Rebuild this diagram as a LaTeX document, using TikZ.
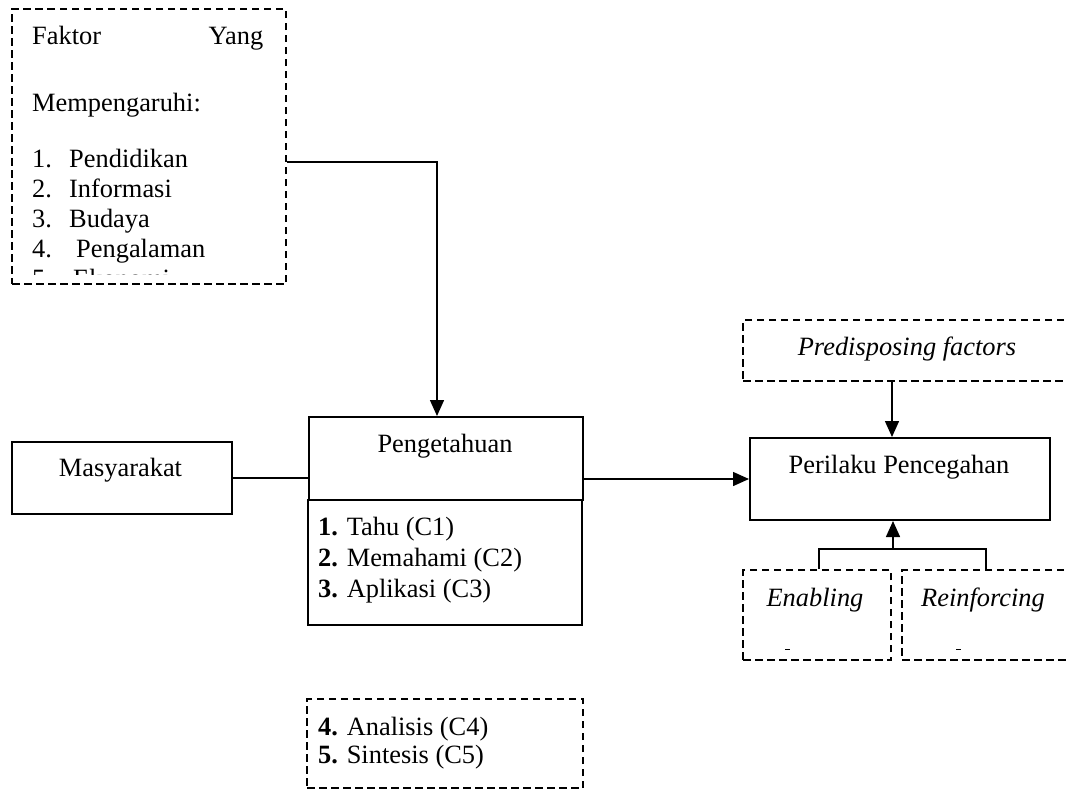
\documentclass[tikz,border=0pt]{standalone}
\usepackage{fontspec}
\setmainfont{Liberation Serif}
\usetikzlibrary{arrows.meta}
\begin{document}
\begin{tikzpicture}[x=1pt,y=-1pt,
  txt/.style={inner sep=0pt, anchor=base west, font=\fontsize{26.4}{30}\selectfont},
  ctxt/.style={inner sep=0pt, anchor=base, font=\fontsize{26.4}{30}\selectfont},
  solidbox/.style={draw, line width=2pt, inner sep=0pt, anchor=north west},
  dashbox/.style={draw, line width=2pt, dash pattern=on 7.5pt off 4.5pt, inner sep=0pt, anchor=north west},
  conn/.style={line width=1.5pt},
  arr/.style={conn, -{Triangle[length=16pt,width=14pt]}}
]
\useasboundingbox (0,0) rectangle (1066,796);
\clip (0,0) rectangle (1066,796);

% boxes
\node[dashbox, minimum width=274pt, minimum height=275pt] (faktor) at (11,8) {};
\node[solidbox, minimum width=274pt, minimum height=83pt] (peng) at (308,416) {};
\node[solidbox, minimum width=274pt, minimum height=125pt] (pengl) at (307,499) {};
\node[solidbox, minimum width=220pt, minimum height=72pt] (masy) at (11,441) {};
\node[solidbox, minimum width=300pt, minimum height=82pt] (peril) at (749,437) {};
\node[dashbox, minimum width=340pt, minimum height=61pt] (pred) at (742,319) {};
\node[dashbox, minimum width=148pt, minimum height=90pt] (enab) at (742,569) {};
\node[dashbox, minimum width=180pt, minimum height=90pt] (reinf) at (901,569) {};
\node[dashbox, minimum width=276pt, minimum height=89pt] (anal) at (306,698) {};

% Faktor text
\begin{scope}
\clip (11,8) rectangle (285,274);
\node[txt] (f0) at (32,44) {\makebox[231pt][s]{Faktor\hfill Yang}};
\node[txt] (f1) at (32,111.5) {Mempengaruhi:};
\node[txt] (n1) at (32,167) {1.};
\node[txt] (t1) at (69,167) {Pendidikan};
\node[txt] (n2) at (32,197) {2.};
\node[txt] (t2) at (69,197) {Informasi};
\node[txt] (n3) at (32,227) {3.};
\node[txt] (t3) at (69,227) {Budaya};
\node[txt] (n4) at (32,257) {4.};
\node[txt] (t4) at (76,257) {Pengalaman};
\node[txt] (n5) at (32,287) {5.};
\node[txt] (t5) at (73,287) {Ekonomi};
\end{scope}

% other texts
\node[ctxt] (lpeng) at (445,452) {Pengetahuan};
\node[txt] (c1) at (318,535) {\textbf{1.} Tahu (C1)};
\node[txt] (c2) at (318,566) {\textbf{2.} Memahami (C2)};
\node[txt] (c3) at (318,597) {\textbf{3.} Aplikasi (C3)};
\node[txt] (c4) at (318,735) {\textbf{4.} Analisis (C4)};
\node[txt] (c5) at (318,763) {\textbf{5.} Sintesis (C5)};
\node[ctxt] (lmasy) at (120.5,476) {Masyarakat};
\node[ctxt] (lperil) at (899,473) {Perilaku Pencegahan};
\node[ctxt] (lpred) at (907,355) {\itshape Predisposing factors};
\node[ctxt] (lenab) at (815,606) {\itshape Enabling};
\node[ctxt] (lreinf) at (983,606) {\itshape Reinforcing};
\draw[line width=0.9pt] (785,649) -- (790,649);
\draw[line width=0.9pt] (956,649) -- (961,649);

% connectors
\draw[arr] ([yshift=-154pt]faktor.north east) -| ([xshift=-9pt]peng.north);
\draw[conn] (masy.east) -- (masy.east -| peng.west);
\draw[arr] (peril.west -| peng.east) -- (peril.west);
\draw[arr] ([xshift=-8pt]peril.north |- pred.south) -- ([xshift=-8pt]peril.north);
\coordinate (j) at (893,549);
\draw[conn] ([xshift=2pt]enab.north) -- ([xshift=2pt]enab.north |- j) -- ([xshift=-6pt]reinf.north |- j) -- ([xshift=-6pt]reinf.north);
\draw[arr] (j) -- (j |- peril.south);
\end{tikzpicture}
\end{document}
